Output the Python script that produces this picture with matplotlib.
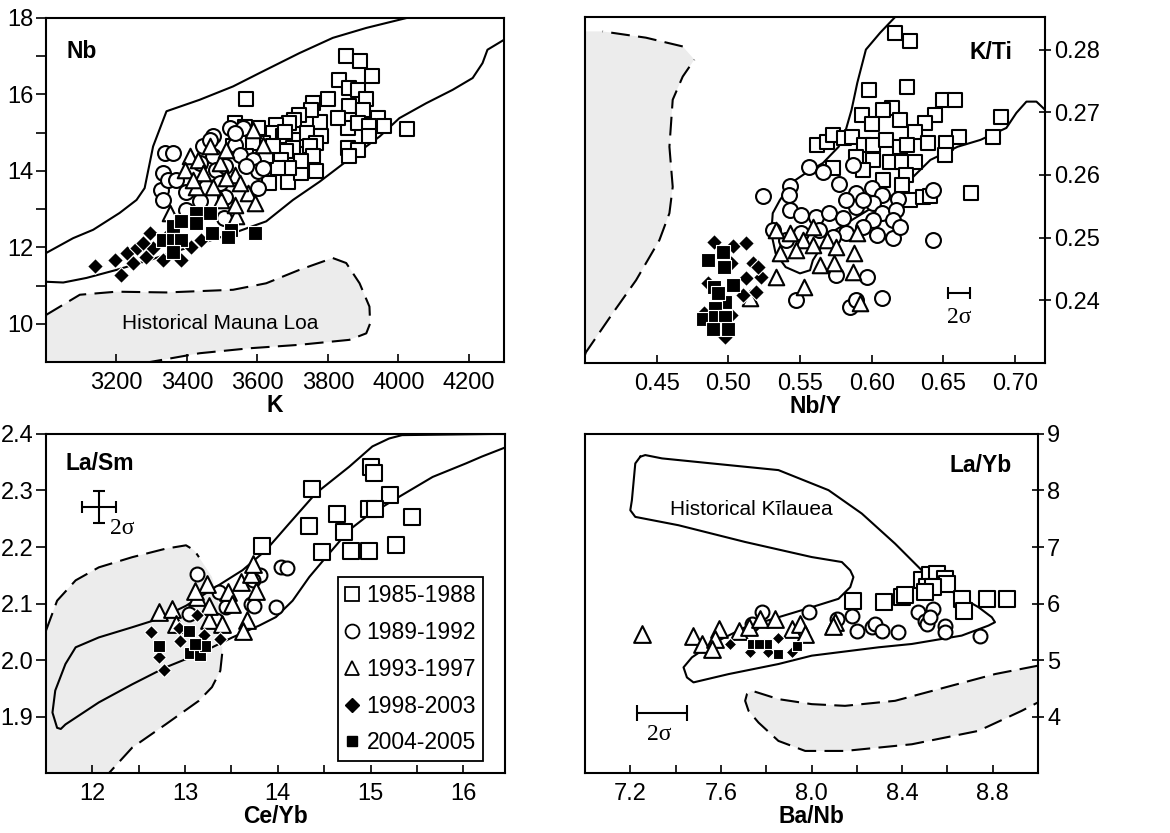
import numpy as np
import matplotlib.pyplot as plt
from matplotlib.lines import Line2D
from matplotlib.ticker import FixedLocator, FormatStrFormatter

plt.rcParams['font.family'] = ['Liberation Sans', 'DejaVu Sans']
plt.rcParams['font.size'] = 16

periods = ['1985-1988', '1989-1992', '1993-1997', '1998-2003', '2004-2005']

# ---- panel 1: K vs Nb ----
k_85 = [3852, 3890, 3926, 3833, 3860, 3885, 3909, 3569, 3800, 3758, 3777, 3860, 3899, 3942, 3959,
        4024, 3857, 3885, 3918, 3857, 3885, 3918, 3860, 3829, 3752, 3719, 3705, 3691, 3653, 3644,
        3672, 3719, 3742, 3781, 3767, 3748, 3701, 3682, 3667, 3686, 3724, 3767, 3758, 3724, 3691,
        3658, 3634, 3625, 3615, 3601, 3587, 3569, 3536, 3564, 3531, 3677, 3644]
nb_85 = [17.0, 16.87, 16.47, 16.39, 16.17, 16.12, 15.88, 15.88, 15.88, 15.78, 15.29, 15.69, 15.6, 15.38, 15.18,
         15.09, 15.12, 15.25, 15.18, 14.6, 14.55, 14.9, 14.38, 15.38, 15.6, 15.47, 15.34, 15.25, 15.2, 14.99,
         14.9, 14.81, 15.0, 14.9, 14.73, 14.64, 14.6, 14.51, 14.29, 13.72, 13.94, 13.99, 14.38, 14.25, 14.07,
         14.07, 13.68, 14.38, 14.73, 15.12, 14.73, 14.38, 15.25, 15.16, 14.64, 15.03, 14.64]
k_89 = [3332, 3327, 3332, 3337, 3361, 3346, 3398, 3446, 3474, 3521, 3559, 3536, 3550, 3474, 3436,
        3483, 3509, 3587, 3601, 3601, 3569, 3615, 3509, 3505, 3398, 3436, 3455, 3493, 3465, 3536, 3370]
nb_89 = [13.94, 13.51, 13.24, 14.47, 14.47, 13.77, 13.46, 14.64, 14.9, 15.12, 15.12, 14.68, 14.42, 14.38, 14.2,
         14.03, 14.12, 14.29, 13.99, 13.55, 14.12, 14.07, 13.33, 12.76, 12.98, 13.2, 13.59, 13.68, 14.81, 14.99, 13.77]
k_93 = [3351, 3408, 3394, 3431, 3465, 3493, 3536, 3573, 3592, 3540, 3536, 3498, 3474, 3512, 3446,
        3427, 3587, 3615, 3550, 3512, 3417]
nb_93 = [12.9, 14.38, 14.03, 14.29, 14.64, 14.2, 13.9, 13.42, 13.16, 12.81, 13.11, 13.24, 13.59, 13.81, 13.94,
         13.59, 15.08, 14.68, 13.68, 14.55, 13.77]
k_98 = [3139, 3196, 3212, 3229, 3257, 3285, 3295, 3304, 3332, 3384, 3275, 3247, 3351, 3441, 3412]
nb_98 = [11.5, 11.67, 11.28, 11.85, 11.98, 11.76, 12.37, 11.98, 11.67, 11.67, 12.11, 11.59, 12.37, 12.2, 12.02]
k_04 = [3361, 3384, 3332, 3361, 3384, 3361, 3427, 3465, 3470, 3526, 3517, 3592, 3427]
nb_04 = [12.55, 12.68, 12.2, 12.2, 12.2, 11.89, 12.9, 12.9, 12.37, 12.46, 12.28, 12.37, 12.63]

# field outlines, panel 1
up1_k = [3000, 3077, 3134, 3209, 3257, 3280, 3304, 3342, 3436, 3531, 3606, 3719, 3814, 3909, 4041]
up1_nb = [11.85, 12.24, 12.46, 12.90, 13.24, 13.55, 14.64, 15.56, 15.86, 16.21, 16.56, 17.08, 17.48, 17.74, 18.04]
lo1_k = [3000, 3049, 3115, 3200, 3295, 3398, 3531, 3625, 3701, 3777, 3871, 3947, 4003, 4079, 4154, 4211, 4239, 4253, 4300]
lo1_nb = [11.10, 11.08, 11.20, 11.41, 11.67, 11.98, 12.37, 12.68, 13.24, 13.72, 14.38, 14.90, 15.38, 15.77, 16.12,
          16.43, 16.82, 17.17, 17.43]
ml_k = [3000, 3096, 3200, 3342, 3531, 3625, 3719, 3814, 3852, 3890, 3918, 3920, 3909, 3861, 3719, 3578, 3436, 3295]
ml_nb = [10.23, 10.76, 10.84, 10.82, 10.89, 11.06, 11.41, 11.72, 11.59, 11.06, 10.45, 10.01, 9.75, 9.58, 9.45,
         9.36, 9.23, 9.0]

# ---- panel 2: Nb/Y vs K/Ti ----
nby_85 = [0.616, 0.627, 0.598, 0.625, 0.650, 0.658, 0.614, 0.608, 0.593, 0.600, 0.620, 0.644, 0.637, 0.630, 0.661,
          0.690, 0.685, 0.652, 0.651, 0.639, 0.562, 0.569, 0.573, 0.581, 0.586, 0.573, 0.595, 0.601, 0.610, 0.620,
          0.625, 0.601, 0.613, 0.621, 0.630, 0.624, 0.608, 0.621, 0.627, 0.636, 0.641, 0.669, 0.589, 0.594]
kti_85 = [0.2827, 0.2813, 0.2735, 0.2740, 0.2720, 0.2720, 0.2707, 0.2704, 0.2696, 0.2682, 0.2688, 0.2696, 0.2683,
          0.2669, 0.2661, 0.2693, 0.2660, 0.2651, 0.2632, 0.2651, 0.2648, 0.2653, 0.2664, 0.2659, 0.2661, 0.2611,
          0.2648, 0.2648, 0.2656, 0.2645, 0.2648, 0.2624, 0.2621, 0.2621, 0.2621, 0.2600, 0.2592, 0.2584, 0.2560,
          0.2565, 0.2566, 0.2571, 0.2629, 0.2608]
nby_89 = [0.556, 0.566, 0.524, 0.543, 0.542, 0.577, 0.587, 0.589, 0.600, 0.607, 0.6185, 0.643, 0.643, 0.615,
          0.607, 0.575, 0.597, 0.585, 0.589, 0.547, 0.543, 0.551, 0.561, 0.570, 0.580, 0.589, 0.601, 0.607, 0.617,
          0.601, 0.594, 0.604, 0.615, 0.582, 0.573, 0.563, 0.551, 0.540, 0.531, 0.620, 0.594, 0.582]
kti_89 = [0.2613, 0.2604, 0.2567, 0.2582, 0.2568, 0.2585, 0.2616, 0.2571, 0.2579, 0.2568, 0.2562, 0.2576, 0.2496,
          0.2499, 0.2403, 0.2440, 0.2437, 0.2389, 0.2400, 0.2400, 0.2544, 0.2536, 0.2533, 0.2539, 0.2531, 0.2549,
          0.2555, 0.2539, 0.2544, 0.2528, 0.2517, 0.2504, 0.2528, 0.2507, 0.2501, 0.2512, 0.2507, 0.2496, 0.2512,
          0.2517, 0.2560, 0.2560]
nby_93 = [0.533, 0.543, 0.552, 0.559, 0.569, 0.575, 0.588, 0.564, 0.533, 0.553, 0.592, 0.587, 0.515, 0.547,
          0.536, 0.559, 0.590, 0.574]
kti_93 = [0.2512, 0.2507, 0.2496, 0.2488, 0.2496, 0.2485, 0.2475, 0.2456, 0.2437, 0.2421, 0.2395, 0.2445, 0.2403,
          0.2480, 0.2475, 0.2517, 0.2507, 0.2459]
nby_98 = [0.490, 0.503, 0.512, 0.502, 0.512, 0.523, 0.519, 0.510, 0.486, 0.483, 0.502, 0.494, 0.498, 0.517, 0.521]
kti_98 = [0.2493, 0.2486, 0.2491, 0.2459, 0.2435, 0.2437, 0.2413, 0.2408, 0.2427, 0.2379, 0.2376, 0.2355, 0.2341,
          0.2459, 0.2453]
nby_04 = [0.486, 0.496, 0.497, 0.490, 0.503, 0.498, 0.491, 0.482, 0.491, 0.498, 0.500, 0.489, 0.493]
kti_04 = [0.2464, 0.2477, 0.2453, 0.2421, 0.2424, 0.2397, 0.2387, 0.2371, 0.2373, 0.2373, 0.2355, 0.2355, 0.2411]

f2_nby = [0.616, 0.606, 0.596, 0.590, 0.586, 0.582, 0.577, 0.566, 0.554, 0.545, 0.536, 0.531, 0.530, 0.533, 0.540,
          0.550, 0.557, 0.559, 0.571, 0.594, 0.617, 0.629, 0.641, 0.660, 0.676, 0.694, 0.701, 0.708, 0.715, 0.721]
f2_kti = [0.2851, 0.2827, 0.2800, 0.2747, 0.2704, 0.2672, 0.2645, 0.2619, 0.2603, 0.2589, 0.2560, 0.2539, 0.2507,
          0.2475, 0.2453, 0.2443, 0.2448, 0.2464, 0.2507, 0.2539, 0.2571, 0.2597, 0.2624, 0.2645, 0.2656, 0.2675,
          0.2699, 0.2717, 0.2717, 0.2704]
d2_nby = [0.4006, 0.4192, 0.4356, 0.4519, 0.4589, 0.4612, 0.4589, 0.4612, 0.4682, 0.4763, 0.4682, 0.4425, 0.4123]
d2_kti = [0.2317, 0.2379, 0.2432, 0.2496, 0.2539, 0.2581, 0.2645, 0.2720, 0.2757, 0.2784, 0.2805, 0.2819, 0.2829]

# ---- panel 3: Ce/Yb vs La/Sm ----
ceyb_85 = [14.37, 15.00, 15.04, 15.21, 14.98, 15.05, 14.64, 15.45, 14.34, 14.71, 15.27, 14.48, 14.79, 14.98, 13.83]
lasm_85 = [2.302, 2.341, 2.331, 2.292, 2.268, 2.268, 2.259, 2.253, 2.238, 2.227, 2.203, 2.191, 2.193, 2.193, 2.201]
ceyb_89 = [13.13, 13.81, 14.03, 14.10, 13.37, 13.71, 13.74, 13.98, 13.04, 13.44, 13.33, 13.73]
lasm_89 = [2.153, 2.150, 2.164, 2.162, 2.120, 2.099, 2.096, 2.093, 2.082, 2.093, 2.070, 2.141]
ceyb_93 = [12.72, 12.86, 13.13, 13.24, 13.46, 13.51, 13.60, 13.71, 13.76, 13.67, 13.63, 13.26, 13.40, 13.26,
           12.90, 13.73, 13.11]
lasm_93 = [2.085, 2.091, 2.111, 2.135, 2.120, 2.099, 2.138, 2.153, 2.123, 2.070, 2.052, 2.070, 2.064, 2.096,
           2.064, 2.170, 2.123]
ceyb_98 = [12.63, 12.72, 12.77, 12.93, 12.95, 13.13, 13.20, 13.38]
lasm_98 = [2.049, 2.006, 1.982, 2.057, 2.034, 2.080, 2.045, 2.038]
ceyb_04 = [12.72, 13.04, 13.05, 13.16, 13.22, 13.11]
lasm_04 = [2.024, 2.052, 2.012, 2.008, 2.025, 2.028]

f3_ceyb = [16.45, 16.31, 15.34, 15.20, 15.02, 14.77, 14.41, 14.12, 13.87, 13.62, 13.33, 13.01, 12.72, 12.43, 12.07,
           11.82, 11.71, 11.60, 11.57, 11.62, 11.66, 11.71, 12.07, 12.43, 12.79, 13.15, 13.51, 13.80, 13.98, 14.16,
           14.34, 14.52, 14.77, 14.95, 15.31, 15.67, 16.03, 16.20, 16.45]
f3_lasm = [2.40, 2.40, 2.398, 2.392, 2.378, 2.342, 2.295, 2.241, 2.194, 2.159, 2.129, 2.096, 2.073, 2.058, 2.040,
           2.0225, 1.993, 1.946, 1.907, 1.880, 1.878, 1.886, 1.925, 1.957, 1.987, 2.011, 2.040, 2.061, 2.076, 2.105,
           2.147, 2.182, 2.230, 2.253, 2.289, 2.324, 2.348, 2.360, 2.376]
d3a_ceyb = [11.5, 11.62, 11.82, 12.07, 12.43, 12.79, 13.01, 13.10, 13.15]
d3a_lasm = [2.052, 2.105, 2.141, 2.164, 2.182, 2.197, 2.203, 2.194, 2.182]
d3mid_ceyb = [13.29, 13.38, 13.40]
d3mid_lasm = [2.147, 2.088, 2.041]
d3b_ceyb = [13.40, 13.38, 13.29, 13.15, 12.79, 12.43, 12.18]
d3b_lasm = [2.011, 1.981, 1.952, 1.928, 1.886, 1.845, 1.80]

# ---- panel 4: Ba/Nb vs La/Yb ----
banb_85 = [8.487, 8.524, 8.553, 8.590, 8.597, 8.509, 8.538, 8.501, 8.399, 8.413, 8.318, 8.185, 8.663, 8.671, 8.774, 8.862]
layb_85 = [6.408, 6.497, 6.527, 6.438, 6.349, 6.290, 6.290, 6.201, 6.112, 6.142, 6.024, 6.053, 6.083, 5.876, 6.083, 6.083]
banb_89 = [7.781, 7.987, 8.112, 8.178, 8.200, 8.266, 8.281, 8.310, 8.384, 8.472, 8.501, 8.509, 8.538, 8.524, 8.590,
           8.590, 8.744, 7.737]
layb_89 = [5.846, 5.846, 5.728, 5.787, 5.521, 5.580, 5.639, 5.521, 5.491, 5.846, 5.698, 5.639, 5.905, 5.757, 5.609,
           5.491, 5.432, 5.639]
banb_93 = [7.251, 7.479, 7.516, 7.590, 7.575, 7.560, 7.678, 7.722, 7.774, 7.840, 7.913, 7.950, 7.972, 8.104, 8.096]
layb_93 = [5.462, 5.432, 5.284, 5.550, 5.373, 5.195, 5.521, 5.580, 5.728, 5.728, 5.550, 5.639, 5.462, 5.669, 5.609]
banb_98 = [7.641, 7.854, 7.729, 7.810, 7.913]
layb_98 = [5.284, 5.385, 5.136, 5.136, 5.136]
banb_04 = [7.737, 7.803, 7.851, 7.935, 7.766]
layb_04 = [5.284, 5.284, 5.107, 5.254, 5.284]

kil_banb = [7.244, 7.222, 7.207, 7.200, 7.222, 7.413, 7.707, 8.001, 8.134, 8.171, 8.185, 8.171, 8.119, 8.001, 7.854,
            7.707, 7.560, 7.472, 7.435, 7.450, 7.479, 7.634, 7.854, 8.001, 8.296, 8.443, 8.663, 8.781, 8.810, 8.796,
            8.737, 8.634, 8.560, 8.487, 8.369, 8.222, 8.075, 7.854, 7.560, 7.340, 7.266, 7.244]
kil_layb = [8.598, 8.479, 7.828, 7.651, 7.533, 7.385, 7.089, 6.822, 6.734, 6.586, 6.467, 6.290, 6.083, 5.935, 5.757,
            5.580, 5.284, 5.047, 4.870, 4.692, 4.604, 4.751, 4.929, 5.077, 5.225, 5.284, 5.432, 5.609, 5.669, 5.757,
            5.935, 6.172, 6.408, 6.586, 7.059, 7.592, 8.006, 8.361, 8.479, 8.568, 8.627, 8.598]
d4_banb = [9.0, 8.810, 8.590, 8.369, 8.148, 8.001, 7.854, 7.737, 7.715, 7.707, 7.722, 7.766, 7.854, 7.972, 8.148,
           8.443, 8.737, 8.928, 9.0]
d4_layb = [4.90, 4.751, 4.515, 4.278, 4.189, 4.219, 4.308, 4.456, 4.396, 4.278, 4.101, 3.893, 3.568, 3.391, 3.391,
           3.509, 3.746, 4.101, 4.25]

GREY = '#ececec'
DASH = (0, (9, 4))
TICK_FS = 17
LABEL_FS = 16.5


def draw_series(ax, xs, ys, sizes):
    open_kw = dict(facecolors='white', edgecolors='black', linewidths=1.5)
    ax.scatter(xs[0], ys[0], marker='s', s=sizes[0], zorder=3, **open_kw)
    ax.scatter(xs[1], ys[1], marker='o', s=sizes[1], zorder=3, **open_kw)
    ax.scatter(xs[2], ys[2], marker='^', s=sizes[2], zorder=3, **open_kw)
    ax.scatter(xs[3], ys[3], marker='D', s=sizes[3], facecolors='black', edgecolors='white',
               linewidths=0.8, zorder=3)
    ax.scatter(xs[4], ys[4], marker='s', s=sizes[4], facecolors='black', edgecolors='white',
               linewidths=0.8, zorder=3)


def style_axes(ax, right=False):
    for sp in ax.spines.values():
        sp.set_linewidth(1.5)
    ax.tick_params(axis='x', which='both', direction='in', length=6, width=1.2, pad=7, labelsize=TICK_FS)
    if right:
        ax.yaxis.tick_right()
        ax.tick_params(axis='y', which='both', direction='inout', length=9, width=1.2, pad=2, labelsize=TICK_FS)
    else:
        ax.tick_params(axis='y', which='both', direction='out', length=7, width=1.2, pad=2, labelsize=TICK_FS)


fig = plt.figure(figsize=(11.7, 8.33), dpi=100)
ax1 = fig.add_axes([0.0393, 0.5654, 0.3915, 0.4130])
ax2 = fig.add_axes([0.5000, 0.5642, 0.3932, 0.4154])
ax3 = fig.add_axes([0.0393, 0.0720, 0.3923, 0.4070])
ax4 = fig.add_axes([0.5000, 0.0720, 0.3872, 0.4070])

# panel 1
ax1.fill(ml_k + [3000], ml_nb + [9.0], color=GREY, lw=0, zorder=0)
ax1.plot(ml_k, ml_nb, color='black', lw=1.5, ls=DASH, zorder=1)
ax1.plot(up1_k, up1_nb, color='black', lw=1.5, zorder=1)
ax1.plot(lo1_k, lo1_nb, color='black', lw=1.5, zorder=1)
draw_series(ax1, [k_85, k_89, k_93, k_98, k_04], [nb_85, nb_89, nb_93, nb_98, nb_04], [105, 115, 125, 65, 90])
ax1.text(3495, 10.0, 'Historical Mauna Loa', fontsize=15, ha='center', va='center')
ax1.text(3058, 17.13, 'Nb', fontsize=LABEL_FS, fontweight='bold', ha='left', va='center')
ax1.set_xlim(3000, 4300)
ax1.set_ylim(9, 18)
ax1.xaxis.set_major_locator(FixedLocator([3200, 3400, 3600, 3800, 4000, 4200]))
ax1.yaxis.set_major_locator(FixedLocator([10, 12, 14, 16, 18]))
ax1.yaxis.set_minor_locator(FixedLocator([11, 13, 15, 17]))
ax1.set_xlabel('K', fontweight='bold', fontsize=LABEL_FS, labelpad=0)
style_axes(ax1)

# panel 2
ax2.fill(d2_nby + [0.40, 0.40], d2_kti + [0.2829, 0.2310], color=GREY, lw=0, zorder=0)
ax2.plot([0.40] + d2_nby[:10], [0.2313] + d2_kti[:10], color='black', lw=1.5, ls=DASH, zorder=1)
ax2.plot(d2_nby[10:], d2_kti[10:], color='black', lw=1.5, ls=DASH, zorder=1)
ax2.plot(f2_nby, f2_kti, color='black', lw=1.5, zorder=1)
draw_series(ax2, [nby_85, nby_89, nby_93, nby_98, nby_04], [kti_85, kti_89, kti_93, kti_98, kti_04],
            [105, 115, 125, 65, 90])
ax2.errorbar(0.661, 0.2411, xerr=0.0075, fmt='none', ecolor='black', elinewidth=1.5, capsize=4, capthick=1.5)
ax2.text(0.661, 0.2372, '2σ', fontsize=17, family=['Liberation Serif', 'DejaVu Serif'], ha='center', va='center')
ax2.text(0.698, 0.2795, 'K/Ti', fontsize=LABEL_FS, fontweight='bold', ha='right', va='center')
ax2.set_xlim(0.40, 0.721)
ax2.set_ylim(0.23, 0.2852)
ax2.xaxis.set_major_locator(FixedLocator([0.45, 0.50, 0.55, 0.60, 0.65, 0.70]))
ax2.xaxis.set_major_formatter(FormatStrFormatter('%.2f'))
ax2.yaxis.set_major_locator(FixedLocator([0.24, 0.25, 0.26, 0.27, 0.28]))
ax2.yaxis.set_major_formatter(FormatStrFormatter('%.2f'))
ax2.set_xlabel('Nb/Y', fontweight='bold', fontsize=LABEL_FS, labelpad=0)
style_axes(ax2, right=True)

# panel 3
ax3.fill(d3a_ceyb + d3mid_ceyb + d3b_ceyb + [11.5], d3a_lasm + d3mid_lasm + d3b_lasm + [1.8],
         color=GREY, lw=0, zorder=0)
ax3.plot(d3a_ceyb, d3a_lasm, color='black', lw=1.5, ls=DASH, zorder=1)
ax3.plot(d3b_ceyb, d3b_lasm, color='black', lw=1.5, ls=DASH, zorder=1)
ax3.plot(f3_ceyb, f3_lasm, color='black', lw=1.5, zorder=1)
draw_series(ax3, [ceyb_85, ceyb_89, ceyb_93, ceyb_98, ceyb_04], [lasm_85, lasm_89, lasm_93, lasm_98, lasm_04],
            [135, 100, 145, 50, 65])
ax3.errorbar(12.07, 2.271, xerr=0.18, yerr=0.028, fmt='none', ecolor='black', elinewidth=1.5,
             capsize=4, capthick=1.5)
ax3.text(12.32, 2.232, '2σ', fontsize=17, family=['Liberation Serif', 'DejaVu Serif'], ha='center', va='center')
ax3.text(11.71, 2.348, 'La/Sm', fontsize=LABEL_FS, fontweight='bold', ha='left', va='center')
ax3.set_xlim(11.5, 16.45)
ax3.set_ylim(1.8, 2.4)
ax3.xaxis.set_major_locator(FixedLocator([12, 13, 14, 15, 16]))
ax3.xaxis.set_minor_locator(FixedLocator([11.5, 12.5, 13.5, 14.5, 15.5]))
ax3.yaxis.set_major_locator(FixedLocator([1.9, 2.0, 2.1, 2.2, 2.3, 2.4]))
ax3.yaxis.set_major_formatter(FormatStrFormatter('%.1f'))
ax3.set_xlabel('Ce/Yb', fontweight='bold', fontsize=LABEL_FS, labelpad=0)
style_axes(ax3)

handles = [
    Line2D([], [], ls='none', marker='s', ms=10, mfc='white', mec='black', mew=1.3),
    Line2D([], [], ls='none', marker='o', ms=10, mfc='white', mec='black', mew=1.3),
    Line2D([], [], ls='none', marker='^', ms=10, mfc='white', mec='black', mew=1.3),
    Line2D([], [], ls='none', marker='D', ms=7, mfc='black', mec='black'),
    Line2D([], [], ls='none', marker='s', ms=7, mfc='black', mec='black'),
]
leg = ax3.legend(handles, periods, loc='lower right', bbox_to_anchor=(0.952, 0.035), fontsize=16.5,
                 frameon=True, fancybox=False, edgecolor='black', framealpha=1,
                 handlelength=0.6, handletextpad=0.35, labelspacing=0.6, borderpad=0.3, borderaxespad=0)
leg.get_frame().set_linewidth(1.3)

# panel 4
ax4.fill(d4_banb, d4_layb, color=GREY, lw=0, zorder=0)
ax4.plot(d4_banb, d4_layb, color='black', lw=1.5, ls=DASH, zorder=1)
ax4.plot(kil_banb, kil_layb, color='black', lw=1.5, zorder=1)
draw_series(ax4, [banb_85, banb_89, banb_93, banb_98, banb_04], [layb_85, layb_89, layb_93, layb_98, layb_04],
            [135, 100, 145, 40, 60])
ax4.errorbar(7.34, 4.07, xerr=0.11, fmt='none', ecolor='black', elinewidth=1.5, capsize=6, capthick=1.5)
ax4.text(7.33, 3.69, '2σ', fontsize=17, family=['Liberation Serif', 'DejaVu Serif'], ha='center', va='center')
ax4.text(7.376, 7.66, 'Historical Kīlauea', fontsize=15, ha='left', va='center')
ax4.text(8.884, 8.45, 'La/Yb', fontsize=LABEL_FS, fontweight='bold', ha='right', va='center')
ax4.set_xlim(7.0, 9.0)
ax4.set_ylim(3, 9)
ax4.xaxis.set_major_locator(FixedLocator([7.2, 7.6, 8.0, 8.4, 8.8]))
ax4.xaxis.set_minor_locator(FixedLocator([7.4, 7.8, 8.2, 8.6]))
ax4.xaxis.set_major_formatter(FormatStrFormatter('%.1f'))
ax4.yaxis.set_major_locator(FixedLocator([4, 5, 6, 7, 8, 9]))
ax4.set_xlabel('Ba/Nb', fontweight='bold', fontsize=LABEL_FS, labelpad=0)
style_axes(ax4, right=True)

fig.savefig('out.png', dpi=100, facecolor='white')
